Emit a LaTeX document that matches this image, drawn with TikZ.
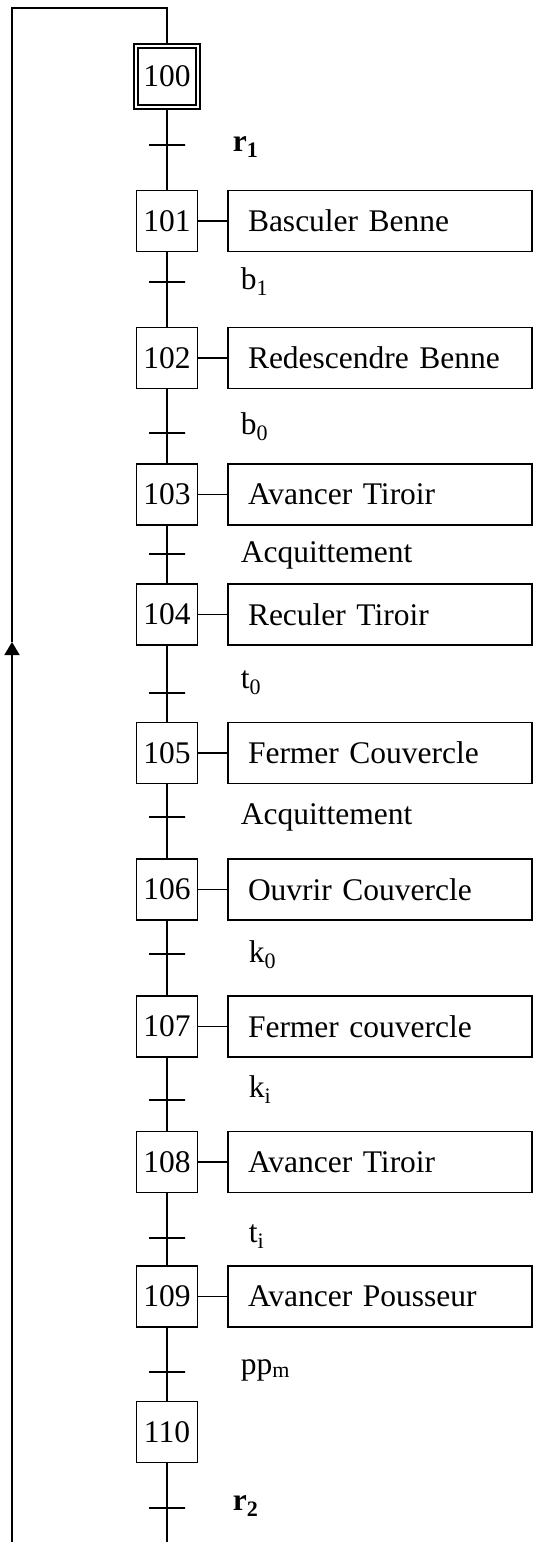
\documentclass[tikz,border=0pt]{standalone}
\usepackage{fontspec}
\setmainfont{Liberation Serif}
\usetikzlibrary{arrows.meta}

\begin{document}
\begin{tikzpicture}[x=1pt,y=-1pt,line width=1.8pt,
  every node/.style={font=\fontsize{31.5}{36}\selectfont},
  stepbox/.style={draw,minimum width=61pt,minimum height=61pt,inner sep=0pt},
  actionbox/.style={draw,minimum height=61pt,text width=264pt,inner xsep=20pt,inner ysep=0pt,align=left},
  trans/.style={draw,minimum width=36pt,minimum height=0pt,inner sep=0pt,line width=1.5pt},
  cond/.style={anchor=west,inner sep=0pt}]
  \useasboundingbox (0,0) rectangle (533,1542);
  % initial step
  \node[stepbox,double,double distance=2.4pt,minimum width=62pt] (s100) at (167,76.5) {100};
  % steps with their actions
  \foreach \n/\y/\act in {101/221/Basculer Benne, 102/358/Redescendre Benne,
      103/494.5/Avancer Tiroir, 104/614.5/Reculer Tiroir, 105/753/Fermer Couvercle,
      106/889.5/Ouvrir Couvercle, 107/1026.5/Fermer couvercle, 108/1162/Avancer Tiroir,
      109/1296.5/Avancer Pousseur}{
    \node[stepbox] (s\n) at (167,\y) {\n};
    \node[actionbox] (a\n) at (380,\y) {\act};
    \draw (s\n) -- (a\n);
  }
  \node[stepbox] (s110) at (167,1432) {110};
  % transitions and receptivities
  \foreach \i/\ty/\lx/\ly/\lab in {0/145/232/147/\textbf{r\textsubscript{1}},
      1/282/240/282/b\textsubscript{1}, 2/433/240/427/b\textsubscript{0},
      3/554/240/555/Acquittement, 4/693/240/683/t\textsubscript{0},
      5/817/240/817/Acquittement, 6/954/248/955/k\textsubscript{0},
      7/1100/248/1090/k\textsubscript{i}, 8/1238/248/1237/t\textsubscript{i},
      9/1372/240/1370/pp\textsubscript{m}, 10/1508/232/1506/\textbf{r\textsubscript{2}}}{
    \node[trans] (t\i) at (167,\ty) {};
    \node[cond] (c\i) at (\lx,\ly) {\lab};
  }
  % links between steps
  \foreach \i in {0,...,9}{
    \pgfmathtruncatemacro\cur{100+\i}
    \pgfmathtruncatemacro\nxt{101+\i}
    \draw (s\cur) -- (t\i.center) -- (s\nxt);
  }
  % loop back to the initial step
  \coordinate (bot) at (167,1542);
  \coordinate (lbot) at (12,1542);
  \coordinate (larrow) at (12,642);
  \coordinate (ltop) at (12,8);
  \draw (s110) -- (t10.center) -- (bot);
  \draw[-{Triangle[width=15pt,length=13pt]}] (lbot) -- (larrow);
  \draw (larrow) -- (ltop) -| (s100);
\end{tikzpicture}
\end{document}
